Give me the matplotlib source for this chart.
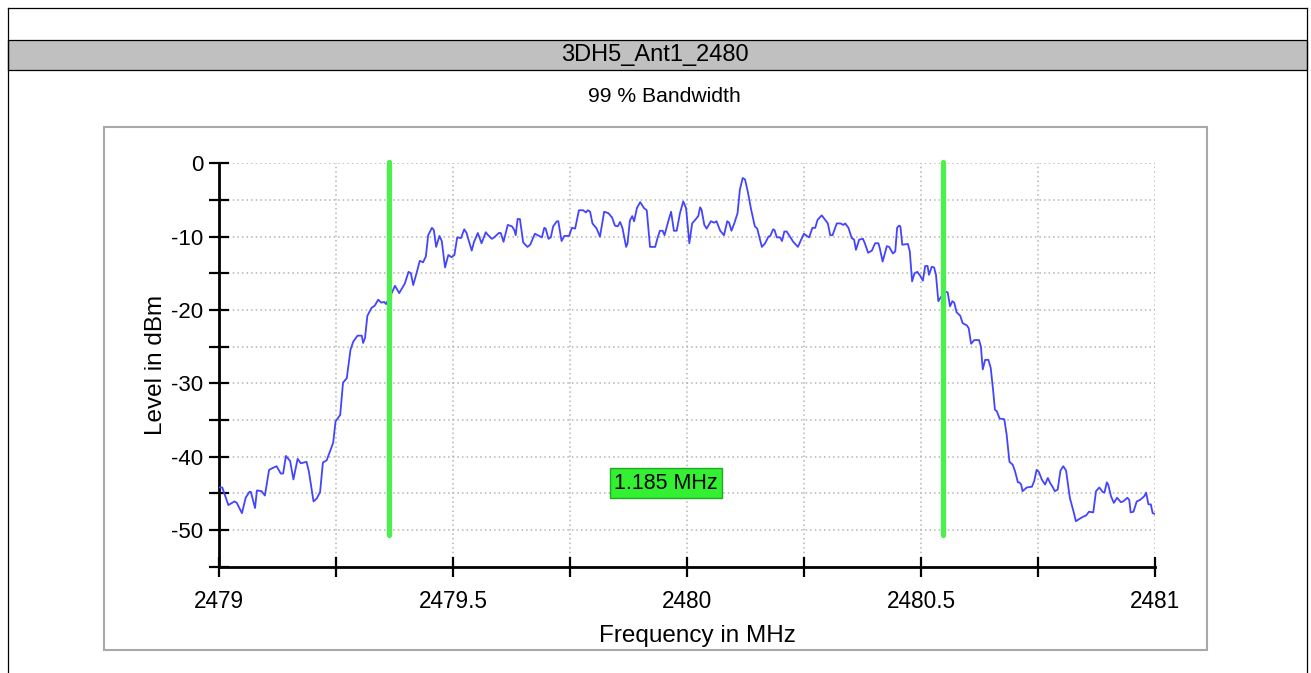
import matplotlib.pyplot as plt
from matplotlib.patches import Rectangle
from matplotlib.lines import Line2D
from matplotlib.ticker import MultipleLocator

plt.rcParams['font.family'] = ['Liberation Sans', 'DejaVu Sans']

# ── Data ─────────────────────────────────────────────────────────────────────
title = '3DH5_Ant1_2480'
subtitle = '99 % Bandwidth'
x_label = 'Frequency in MHz'
y_label = 'Level in dBm'

freq_mhz = [
    2479.000, 2479.007, 2479.020, 2479.033, 2479.038, 2479.049, 2479.057, 2479.065,
    2479.068, 2479.077, 2479.081, 2479.091, 2479.098, 2479.107, 2479.116, 2479.123,
    2479.132, 2479.137, 2479.143, 2479.152, 2479.159, 2479.168, 2479.175, 2479.187,
    2479.192, 2479.202, 2479.209, 2479.216, 2479.222, 2479.230, 2479.244, 2479.249,
    2479.259, 2479.265, 2479.273, 2479.281, 2479.287, 2479.296, 2479.305, 2479.308,
    2479.312, 2479.317, 2479.326, 2479.333, 2479.340, 2479.347, 2479.353, 2479.357,
    2479.363, 2479.369, 2479.376, 2479.385, 2479.397, 2479.405, 2479.410, 2479.415,
    2479.422, 2479.429, 2479.436, 2479.442, 2479.447, 2479.455, 2479.459, 2479.464,
    2479.471, 2479.476, 2479.483, 2479.490, 2479.497, 2479.503, 2479.509, 2479.517,
    2479.524, 2479.529, 2479.533, 2479.540, 2479.545, 2479.553, 2479.561, 2479.570,
    2479.575, 2479.583, 2479.588, 2479.598, 2479.602, 2479.608, 2479.617, 2479.626,
    2479.631, 2479.634, 2479.638, 2479.643, 2479.650, 2479.659, 2479.665, 2479.675,
    2479.684, 2479.690, 2479.695, 2479.698, 2479.704, 2479.709, 2479.714, 2479.722,
    2479.725, 2479.732, 2479.738, 2479.748, 2479.754, 2479.761, 2479.769, 2479.778,
    2479.784, 2479.788, 2479.793, 2479.798, 2479.807, 2479.814, 2479.823, 2479.832,
    2479.840, 2479.846, 2479.852, 2479.857, 2479.862, 2479.870, 2479.873, 2479.878,
    2479.883, 2479.887, 2479.893, 2479.900, 2479.908, 2479.914, 2479.921, 2479.932,
    2479.937, 2479.942, 2479.948, 2479.952, 2479.960, 2479.966, 2479.972, 2479.978,
    2479.985, 2479.992, 2479.998, 2480.005, 2480.011, 2480.019, 2480.024, 2480.028,
    2480.031, 2480.037, 2480.042, 2480.051, 2480.058, 2480.063, 2480.071, 2480.079,
    2480.086, 2480.090, 2480.095, 2480.101, 2480.108, 2480.113, 2480.119, 2480.124,
    2480.130, 2480.137, 2480.145, 2480.150, 2480.160, 2480.167, 2480.174, 2480.178,
    2480.184, 2480.187, 2480.192, 2480.199, 2480.203, 2480.208, 2480.213, 2480.220,
    2480.227, 2480.237, 2480.244, 2480.250, 2480.256, 2480.261, 2480.268, 2480.274,
    2480.279, 2480.288, 2480.294, 2480.301, 2480.306, 2480.311, 2480.320, 2480.328,
    2480.334, 2480.338, 2480.345, 2480.352, 2480.357, 2480.361, 2480.368, 2480.376,
    2480.380, 2480.387, 2480.395, 2480.402, 2480.409, 2480.412, 2480.418, 2480.427,
    2480.432, 2480.440, 2480.445, 2480.449, 2480.453, 2480.456, 2480.460, 2480.472,
    2480.476, 2480.481, 2480.486, 2480.492, 2480.498, 2480.504, 2480.509, 2480.514,
    2480.517, 2480.523, 2480.528, 2480.532, 2480.537, 2480.545, 2480.553, 2480.557,
    2480.562, 2480.567, 2480.571, 2480.576, 2480.584, 2480.589, 2480.598, 2480.602,
    2480.607, 2480.614, 2480.624, 2480.628, 2480.632, 2480.637, 2480.644, 2480.649,
    2480.654, 2480.658, 2480.662, 2480.668, 2480.678, 2480.683, 2480.689, 2480.696,
    2480.701, 2480.707, 2480.710, 2480.714, 2480.717, 2480.726, 2480.737, 2480.742,
    2480.747, 2480.752, 2480.758, 2480.765, 2480.771, 2480.776, 2480.781, 2480.786,
    2480.792, 2480.798, 2480.804, 2480.810, 2480.818, 2480.826, 2480.831, 2480.838,
    2480.846, 2480.853, 2480.859, 2480.868, 2480.874, 2480.881, 2480.888, 2480.892,
    2480.897, 2480.900, 2480.906, 2480.912, 2480.919, 2480.927, 2480.932, 2480.941,
    2480.945, 2480.948, 2480.954, 2480.961, 2480.968, 2480.977, 2480.981, 2480.986,
    2480.991, 2480.995, 2481.000,
]
level_dbm = [
    -44.2, -44.2, -46.6, -46.1, -46.3, -47.7, -45.6, -44.8,
    -44.8, -47.0, -44.6, -44.7, -45.3, -41.8, -41.5, -41.3,
    -42.3, -42.3, -39.9, -40.6, -43.1, -40.3, -40.9, -40.7,
    -42.0, -46.1, -45.7, -44.8, -40.8, -40.5, -38.1, -35.2,
    -34.3, -29.9, -29.3, -25.4, -24.3, -23.5, -23.5, -24.5,
    -23.8, -20.8, -19.7, -19.4, -18.6, -19.0, -18.9, -19.2,
    -18.4, -17.7, -16.7, -17.7, -16.4, -14.8, -15.0, -16.6,
    -15.0, -13.3, -13.5, -12.7, -9.8, -8.8, -9.1, -11.4,
    -9.9, -10.6, -14.2, -12.5, -12.8, -12.5, -10.1, -10.2,
    -9.0, -9.5, -10.4, -11.9, -10.7, -9.5, -10.9, -9.4,
    -9.8, -10.3, -10.1, -9.5, -9.5, -10.7, -8.4, -8.6,
    -9.1, -9.8, -7.6, -7.6, -10.8, -11.4, -11.1, -9.6,
    -9.9, -10.1, -8.8, -8.9, -10.3, -10.1, -8.6, -7.9,
    -7.9, -10.6, -9.9, -9.9, -8.8, -8.9, -6.4, -6.4,
    -6.7, -6.4, -6.6, -8.2, -8.9, -10.0, -6.6, -6.8,
    -7.4, -8.5, -8.6, -8.0, -8.8, -11.4, -10.9, -7.8,
    -7.2, -7.9, -6.1, -5.3, -6.1, -6.4, -11.4, -11.4,
    -10.2, -9.2, -9.2, -9.8, -7.9, -6.6, -9.2, -9.2,
    -6.8, -5.2, -6.1, -10.9, -8.2, -7.6, -7.2, -6.0,
    -6.3, -8.4, -8.9, -7.9, -8.1, -7.9, -9.2, -9.8,
    -7.9, -8.1, -9.2, -8.2, -6.8, -3.6, -2.0, -2.2,
    -3.9, -6.3, -8.6, -8.9, -11.4, -10.9, -10.0, -9.9,
    -9.0, -9.1, -10.1, -10.1, -10.6, -9.3, -9.3, -10.0,
    -10.7, -11.4, -10.4, -9.6, -9.9, -10.1, -8.8, -8.8,
    -7.7, -7.1, -7.6, -8.2, -9.8, -9.8, -8.2, -8.2,
    -8.4, -8.2, -8.8, -10.2, -10.4, -11.8, -10.4, -10.3,
    -10.9, -12.2, -11.9, -10.9, -10.9, -11.6, -13.4, -11.3,
    -11.4, -12.3, -12.0, -8.8, -8.5, -8.6, -11.1, -11.0,
    -12.0, -16.1, -15.0, -14.8, -15.3, -16.0, -14.0, -14.0,
    -15.2, -14.1, -14.2, -15.2, -18.8, -18.0, -17.5, -17.6,
    -19.5, -18.8, -19.0, -20.3, -20.8, -21.8, -22.1, -22.5,
    -24.6, -24.1, -24.1, -25.0, -28.1, -26.8, -26.8, -27.9,
    -30.9, -33.6, -33.8, -34.8, -34.9, -37.0, -40.7, -41.1,
    -42.0, -43.5, -43.5, -43.8, -44.7, -44.2, -44.1, -43.3,
    -41.8, -42.1, -43.1, -43.8, -42.9, -43.6, -44.1, -44.7,
    -44.5, -41.9, -41.3, -41.9, -45.6, -47.5, -48.8, -48.5,
    -48.2, -48.0, -47.5, -47.6, -44.7, -44.2, -44.8, -44.9,
    -43.5, -43.8, -45.4, -46.3, -45.6, -46.2, -46.1, -45.6,
    -45.9, -47.6, -47.5, -46.1, -45.9, -45.4, -44.9, -46.5,
    -46.5, -47.7, -47.8,
]

# 99 % occupied bandwidth markers
obw_left = 2479.3625
obw_right = 2480.5475
obw_text = '1.185 MHz'
marker_top, marker_bottom = 0.2, -50.7

x_ticks = [2479, 2479.5, 2480, 2480.5, 2481]
y_ticks = [0, -10, -20, -30, -40, -50]

# ── Figure / report frame ────────────────────────────────────────────────────
W, H = 1311, 673
fig = plt.figure(figsize=(W / 100, H / 100), dpi=100)


def fx(px):
    return px / W


def fy(py):
    return 1 - py / H


frame = dict(color='black', lw=0.9)
fig.add_artist(Line2D([fx(8), fx(8)], [0, fy(8)], **frame))
fig.add_artist(Line2D([fx(1307), fx(1307)], [0, fy(8)], **frame))
fig.add_artist(Line2D([fx(8), fx(1307)], [fy(8), fy(8)], **frame))
fig.add_artist(Rectangle((fx(8), fy(70)), fx(1307) - fx(8), (70 - 40) / H,
                         facecolor='#c0c0c0', edgecolor='black', lw=0.9))
fig.text(fx(655), fy(55), title, ha='center', va='center', fontsize=17)
fig.text(fx(664), fy(96), subtitle, ha='center', va='center', fontsize=15.2)

# light grey panel around the chart
fig.add_artist(Rectangle((fx(104), fy(650)), fx(1207) - fx(104), (650 - 127) / H,
                         facecolor='none', edgecolor='#a8a8a8', lw=1.5))

# ── Chart ────────────────────────────────────────────────────────────────────
ax = fig.add_axes([fx(219), fy(566.7), fx(1155) - fx(219), (566.7 - 163.3) / H])
ax.plot(freq_mhz, level_dbm, color='#4444ff', lw=1.3, zorder=3)
for f in (obw_left, obw_right):
    ax.plot([f, f], [marker_top, marker_bottom], color='#4cf04c', lw=3.8,
            solid_capstyle='round', zorder=4, clip_on=False)
ax.text((obw_left + obw_right) / 2, -43.6, obw_text, ha='center', va='center',
        fontsize=15.5, zorder=5,
        bbox=dict(boxstyle='square,pad=0.2', fc='#33f033', ec='#22a822', lw=1))

ax.set_xlim(2479, 2481)
ax.set_ylim(-55, 0)
ax.set_xticks(x_ticks)
ax.set_xticklabels([f'{t:g}' for t in x_ticks])
ax.set_yticks(y_ticks)
ax.set_yticklabels([f'{t:g}' for t in y_ticks])
ax.xaxis.set_minor_locator(MultipleLocator(0.25))
ax.yaxis.set_minor_locator(MultipleLocator(5))
ax.tick_params(which='both', direction='inout', length=15, width=1.6)
ax.tick_params(axis='x', labelsize=16.3, pad=9)
ax.tick_params(axis='y', labelsize=16, pad=4)
ax.grid(which='both', color='#b4b4b4', linestyle=(0, (1, 2)), lw=1.1)

for side in ('top', 'right'):
    ax.spines[side].set_visible(False)
for side in ('left', 'bottom'):
    ax.spines[side].set_linewidth(2)

ax.set_xlabel(x_label, fontsize=17.5)
ax.set_ylabel(y_label, fontsize=17.5)
ax.xaxis.set_label_coords(0.5107, -0.144)
ax.yaxis.set_label_coords(-0.056, 0.5)

plt.savefig('out.png', dpi=100)
